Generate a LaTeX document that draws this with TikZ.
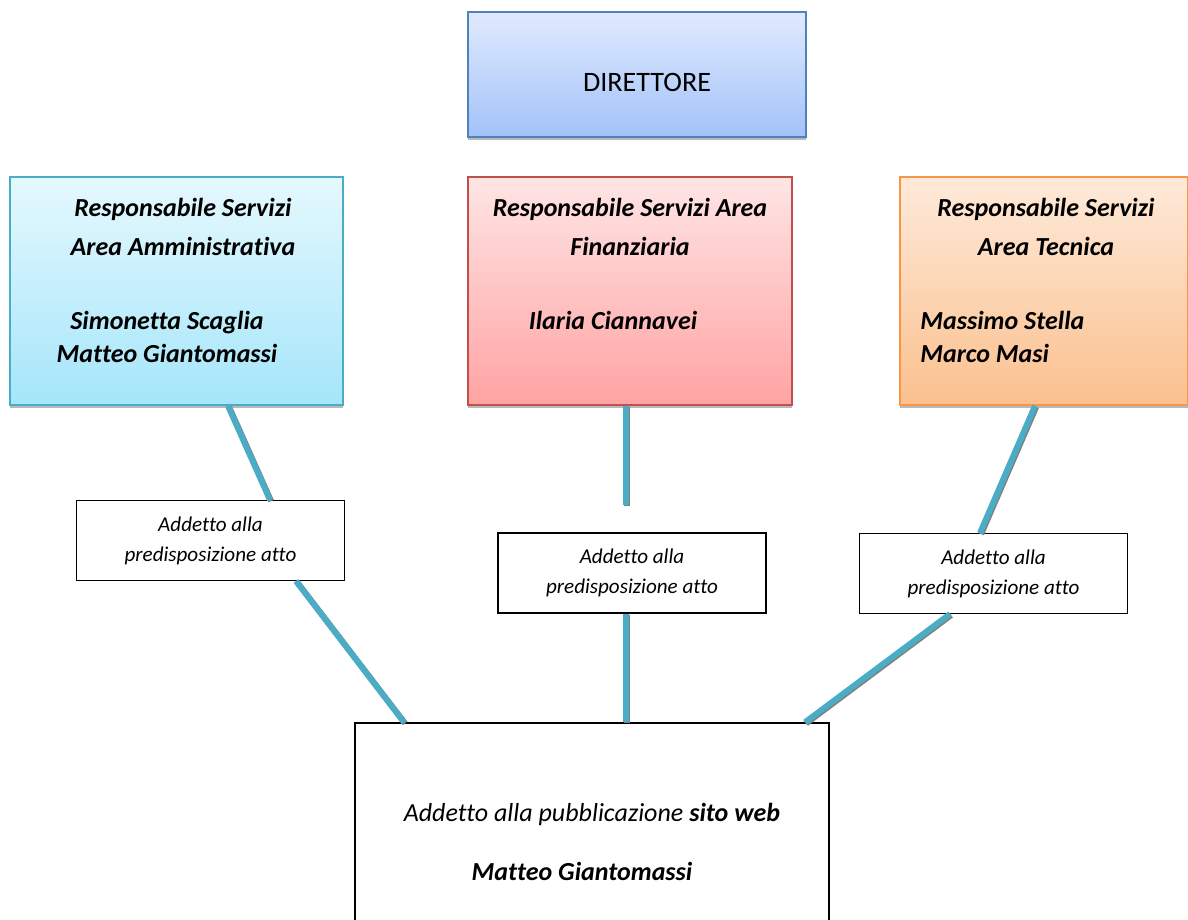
\documentclass[tikz,border=0pt]{standalone}
\usepackage{fontspec}
\setmainfont{Carlito}[Ligatures=NoCommon]
\usetikzlibrary{calc,shadows}

\definecolor{dirtop}{RGB}{224,234,253}
\definecolor{dirbot}{RGB}{163,194,249}
\definecolor{dirline}{RGB}{79,129,189}
\definecolor{admtop}{RGB}{229,248,254}
\definecolor{admbot}{RGB}{165,230,250}
\definecolor{admline}{RGB}{75,172,198}
\definecolor{fintop}{RGB}{255,229,229}
\definecolor{finbot}{RGB}{255,163,163}
\definecolor{finline}{RGB}{192,80,77}
\definecolor{tectop}{RGB}{254,234,218}
\definecolor{tecbot}{RGB}{251,192,142}
\definecolor{tecline}{RGB}{247,150,70}
\definecolor{linkblue}{RGB}{75,172,198}

\begin{document}
\begin{tikzpicture}[x=0.025cm,y=-0.025cm,
    colbox/.style={draw,line width=1.2pt,
      drop shadow={shadow xshift=0pt,shadow yshift=-0.08cm,opacity=0.55,fill=gray}},
    dirbox/.style={colbox,draw=dirline,top color=dirtop,bottom color=dirbot,
      minimum width=8.45cm,minimum height=3.125cm},
    admbox/.style={colbox,draw=admline,top color=admtop,bottom color=admbot,
      minimum width=8.325cm,minimum height=5.7cm},
    finbox/.style={colbox,draw=finline,top color=fintop,bottom color=finbot,
      minimum width=8.1cm,minimum height=5.7cm},
    tecbox/.style={colbox,draw=tecline,top color=tectop,bottom color=tecbot,
      minimum width=7.2cm,minimum height=5.7cm},
    headtxt/.style={inner sep=0pt,align=center,
      font=\fontsize{18.5}{28.3}\selectfont\bfseries\itshape},
    nametxt/.style={inner sep=0pt,align=center,
      font=\fontsize{18.5}{23.4}\selectfont\bfseries\itshape},
    addbox/.style={draw,line width=1pt,fill=white,minimum width=6.7cm,
      minimum height=1.99cm,align=center,font=\fontsize{15}{21.5}\selectfont\itshape},
    conn/.style={line width=4.2pt,draw=linkblue,
      preaction={draw=gray,line width=4.2pt,transform canvas={shift={(0.8pt,-0.8pt)}}}}]
  \useasboundingbox (0,0) rectangle (1188,919);

  % top
  \node[dirbox] (dir) at (637,74.5) {};
  \node[inner sep=0pt,font=\fontsize{20}{24}\selectfont] (dirtxt) at (647,82) {DIRETTORE};

  % areas
  \node[admbox] (adm) at (176.5,291) {};
  \node[headtxt] (admhead) at (183,227) {Responsabile Servizi\\Area Amministrativa};
  \node[nametxt] (admnames) at (167,337) {Simonetta Scaglia\\Matteo Giantomassi};

  \node[finbox] (fin) at (630,291) {};
  \node[headtxt] (finhead) at (630,227) {Responsabile Servizi Area\\Finanziaria};
  \node[nametxt] (finnames) at (613,320) {Ilaria Ciannavei};

  \node[tecbox] (tec) at (1044,291) {};
  \node[headtxt] (techead) at (1046,227) {Responsabile Servizi\\Area Tecnica};
  \node[nametxt,align=left,anchor=west] (tecnames) at (920,337) {Massimo Stella\\Marco Masi};

  % addetti
  \node[addbox] (addL) at (210.5,540.5) {Addetto alla\\predisposizione atto};
  \node[addbox] (addM) at (632,573) {Addetto alla\\predisposizione atto};
  \node[addbox] (addR) at (993.5,573.5) {Addetto alla\\predisposizione atto};

  % pubblicazione
  \node[draw,line width=1pt,minimum width=11.85cm,minimum height=5.05cm] (pub) at (592,824) {};
  \node[inner sep=0pt,align=center,font=\fontsize{18.5}{42.5}\selectfont\itshape] (pubtxt) at (592,842)
    {Addetto alla pubblicazione \textbf{sito web}\\\hspace*{-0.5cm}\textbf{Matteo Giantomassi}};

  % links
  \coordinate (finend) at (626,505);
  \draw[conn] ($(adm.south)+(51.5,0)$) -- ($(addL.north)+(59.5,0)$);
  \draw[conn] ($(addL.south)+(85.5,0)$) -- ($(pub.north)+(-188,0)$);
  \draw[conn] ($(fin.south)+(-4,0)$) -- (finend);
  \draw[conn] ($(addM.south)+(-6,0)$) -- ($(pub.north)+(34,0)$);
  \draw[conn] ($(tec.south)+(-9,0)$) -- ($(addR.north)+(-13.5,0)$);
  \draw[conn] ($(addR.south)+(-43.5,0)$) -- ($(pub.north)+(213,0)$);
\end{tikzpicture}
\end{document}
